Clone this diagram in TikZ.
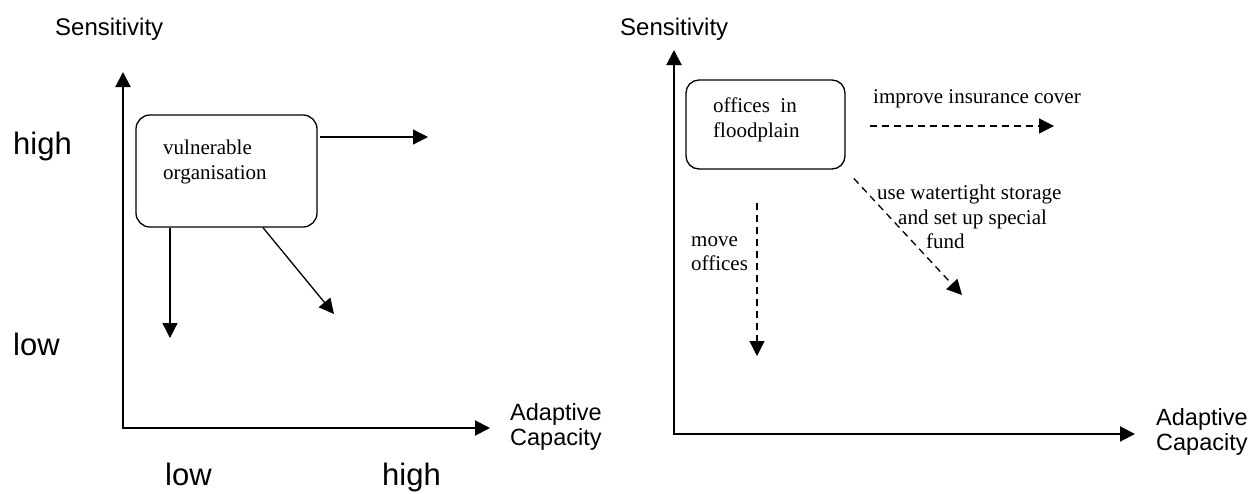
\documentclass[tikz,border=0pt]{standalone}
\usepackage{fontspec}
\setmainfont{Liberation Serif}
\setsansfont{Liberation Sans}
\usepackage{tikz}
\usetikzlibrary{arrows.meta}
\definecolor{ink}{HTML}{000000}
\definecolor{pagebg}{HTML}{FFFFFF}
\tikzstyle{orgbox} = [rectangle, rounded corners=14pt, draw=ink, line width=1.3pt, inner sep=0pt]
\tikzstyle{boxtext} = [font=\fontsize{21}{24.5}\selectfont, align=left, inner sep=0pt, text=ink]
\tikzstyle{axislabel} = [font=\sffamily\fontsize{23.5}{25.5}\selectfont, align=left, inner sep=0pt, text=ink]
\tikzstyle{levellabel} = [font=\sffamily\fontsize{31}{36}\selectfont, inner sep=0pt, text=ink]
\tikzstyle{axisline} = [line width=2pt, {Triangle[length=15pt,width=15pt]}-{Triangle[length=15pt,width=15pt]}, color=ink]
\tikzstyle{movearrow} = [line width=1.3pt, -{Triangle[length=15pt,width=15pt]}, color=ink]
\tikzstyle{optionarrow} = [movearrow, dash pattern=on 7pt off 5pt]

\begin{document}
\begin{tikzpicture}[x=1pt, y=-1pt]
    \useasboundingbox[fill=pagebg] (0,0) rectangle (1250,493);

    % Left panel: a vulnerable organisation and its three ways out
    \coordinate (ytipL) at (123,72);
    \coordinate (origL) at (123,428);
    \coordinate (xtipL) at (490,428);
    \draw[axisline] (ytipL) -- (origL) -- (xtipL);
    \node[axislabel, anchor=base west] (sensL) at (55,35) {\fontsize{24}{26}\selectfont Sensitivity};
    \node[axislabel, anchor=north west] (capL) at (510,403) {Adaptive\\Capacity};
    \node[levellabel, anchor=base west] (highL) at (13,154) {high};
    \node[levellabel, anchor=base west] (lowL) at (13,355) {low};
    \node[levellabel, anchor=base west] (lowB) at (165,485) {low};
    \node[levellabel, anchor=base west] (highB) at (382,485) {high};

    \node[orgbox, minimum width=181pt, minimum height=112pt] (vuln) at (226.5,171) {};
    \node[boxtext, anchor=north west] (vulntext) at (163,140) {vulnerable\\organisation};

    \coordinate (vulnR) at (428,137);
    \coordinate (vulnD) at (170,338);
    \coordinate (vulnSE) at (334,314);
    \draw[movearrow, shorten <=2pt] (vuln.east |- vulnR) -- (vulnR);
    \draw[movearrow] (vuln.south -| vulnD) -- (vulnD);
    \draw[movearrow] ([xshift=36.5pt]vuln.south) -- (vulnSE);

    % Right panel: offices in the floodplain
    \coordinate (ytipR) at (674,50);
    \coordinate (origR) at (674,434);
    \coordinate (xtipR) at (1135,434);
    \draw[axisline] (ytipR) -- (origR) -- (xtipR);
    \node[axislabel, anchor=base west] (sensR) at (620,35) {\fontsize{24}{26}\selectfont Sensitivity};
    \node[axislabel, anchor=north west] (capR) at (1156,408) {Adaptive\\Capacity};

    \node[orgbox, rounded corners=13pt, minimum width=159pt, minimum height=89pt] (flood) at (765.5,124.5) {};
    \node[boxtext, anchor=north west] (floodtext) at (713,98) {offices~~in\\floodplain};

    \coordinate (floodR) at (1054,126);
    \coordinate (floodD) at (757,356);
    \coordinate (floodSE) at (962,295);
    \draw[optionarrow, shorten <=24pt] (flood.east |- floodR) -- (floodR);
    \draw[optionarrow, shorten <=33pt] (flood.south -| floodD) -- (floodD);
    \draw[optionarrow, shorten <=12pt] (flood.south east) -- (floodSE);

    \node[boxtext, anchor=base west] (insure) at (873,103) {improve insurance cover};
    \node[boxtext, anchor=north west] (water) at (877,185) {use watertight storage\\\hspace*{21pt}and set up special\\\hspace*{49pt}fund};
    \node[boxtext, anchor=north west] (moveoff) at (691,236) {move\\offices};
\end{tikzpicture}
\end{document}
